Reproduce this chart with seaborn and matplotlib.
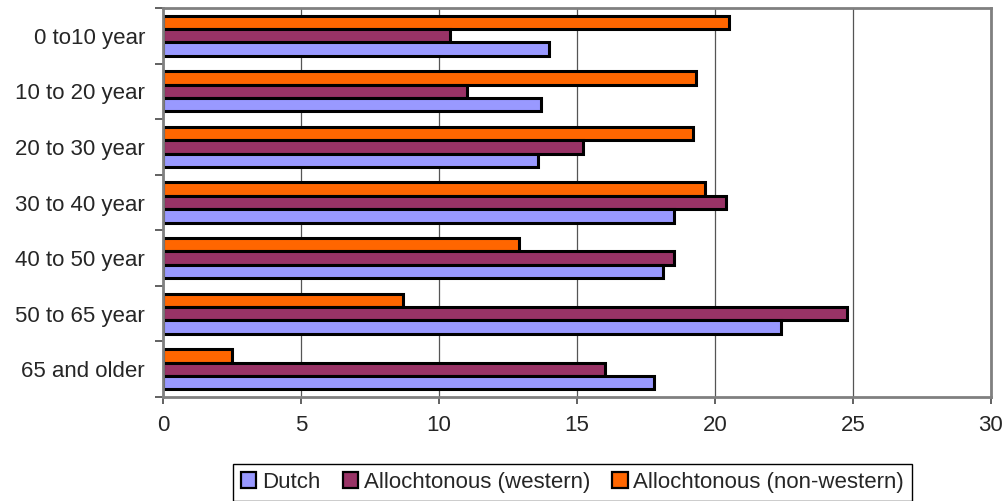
import matplotlib
matplotlib.use("Agg")
import matplotlib.pyplot as plt
from matplotlib.patches import Patch
from matplotlib.ticker import FixedLocator
import seaborn as sns
import pandas as pd

# Age groups and share per population group (percent)
age_groups = ["0 to10 year", "10 to 20 year", "20 to 30 year", "30 to 40 year",
              "40 to 50 year", "50 to 65 year", "65 and older"]
dutch = [14.0, 13.7, 13.6, 18.5, 18.1, 22.4, 17.8]
western = [10.4, 11.0, 15.2, 20.4, 18.5, 24.8, 16.0]
non_western = [20.5, 19.3, 19.2, 19.65, 12.9, 8.7, 2.5]

series_names = ["Dutch", "Allochtonous (western)", "Allochtonous (non-western)"]
series_colors = ["#9999ff", "#993366", "#ff6600"]
x_ticks = [0, 5, 10, 15, 20, 25, 30]

df = pd.DataFrame({
    "age": age_groups * 3,
    "value": dutch + western + non_western,
    "group": [series_names[0]] * 7 + [series_names[1]] * 7 + [series_names[2]] * 7,
})

sns.set_style("white")
plt.rcParams["font.family"] = ["Liberation Sans", "DejaVu Sans"]

fig = plt.figure(figsize=(10.07, 5.01), dpi=100)
ax = fig.add_axes([0.162, 0.2076, 0.822, 0.7764])

# draw top-to-bottom: non-western, western, Dutch within each age group
hue_order = [series_names[2], series_names[1], series_names[0]]
palette = {n: c for n, c in zip(series_names, series_colors)}
sns.barplot(data=df, x="value", y="age", hue="group", order=age_groups,
            hue_order=hue_order, palette=palette, width=0.72, orient="h",
            edgecolor="black", linewidth=2.2, saturation=1, ax=ax, legend=False)

ax.set_xlim(0, 30)
ax.set_ylim(6.5, -0.5)
ax.set_xticks(x_ticks)
ax.set_xlabel("")
ax.set_ylabel("")

ax.xaxis.grid(True, color="#555555", linewidth=0.9)
ax.set_axisbelow(True)

for side, sp in ax.spines.items():
    sp.set_visible(True)
    sp.set_color("#808080")
    sp.set_linewidth(2.0)

ax.tick_params(axis="y", which="major", length=0, pad=13, labelsize=16)
ax.yaxis.set_minor_locator(FixedLocator([i - 0.5 for i in range(8)]))
ax.tick_params(axis="y", which="minor", length=6, width=1.3, color="#555555", left=True)
ax.tick_params(axis="x", which="major", length=5, width=1.3, color="#555555",
               pad=8, labelsize=16, bottom=True)

handles = [Patch(facecolor=c, edgecolor="black", linewidth=1.6) for c in series_colors]
fig.legend(handles, series_names, loc="center", bbox_to_anchor=(0.5685, 0.037),
           ncol=3, frameon=True, fancybox=False, edgecolor="black", fontsize=16,
           handlelength=0.7, handleheight=0.7, handletextpad=0.25,
           columnspacing=1.0, borderpad=0.35, borderaxespad=0, framealpha=1)
fig.legends[0].get_frame().set_linewidth(1.0)

fig.savefig("out.png", dpi=100, facecolor="white")
